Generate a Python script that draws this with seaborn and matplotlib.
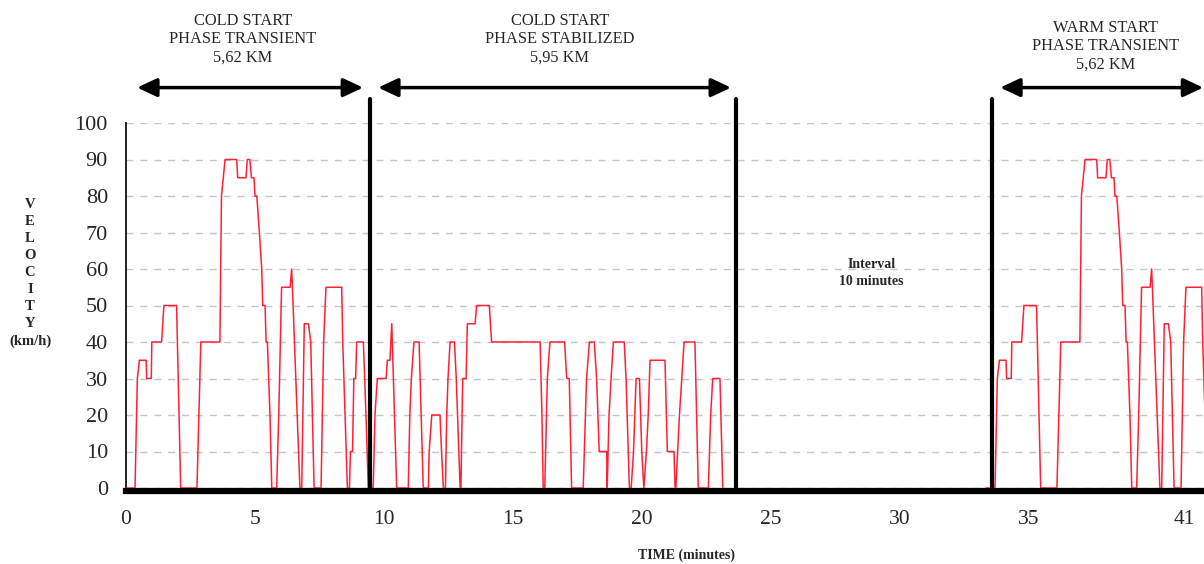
import pandas as pd
import matplotlib
matplotlib.use('Agg')
from matplotlib import pyplot as plt
import seaborn as sns

# transient phase profile (minutes from phase start, km/h)
transient_t = [0, 0.35, 0.44, 0.52, 0.78, 0.8, 0.98, 1.0, 1.38, 1.47, 1.96, 2.12, 2.75, 2.9,
               3.64, 3.7, 3.84, 4.29, 4.33, 4.65, 4.7, 4.8, 4.86, 4.96, 5.0, 5.07, 5.17, 5.26,
               5.3, 5.39, 5.43, 5.48, 5.58, 5.65, 5.84, 5.92, 6.03, 6.36, 6.42, 6.45, 6.74, 6.81,
               6.91, 7.07, 7.16, 7.29, 7.56, 7.66, 7.75, 8.36, 8.4, 8.58, 8.66, 8.7, 8.78, 8.83,
               8.9, 8.94, 9.2, 9.3, 9.39]
transient_v = [0, 0, 30, 35, 35, 30, 30, 40, 40, 50, 50, 0, 0, 40,
               40, 80, 90, 90, 85, 85, 90, 90, 85, 85, 80, 80, 70, 60,
               50, 50, 40, 40, 20, 0, 0, 20, 55, 55, 60, 55, 0, 0,
               45, 45, 40, 0, 0, 40, 55, 55, 40, 0, 0, 10, 10, 30,
               30, 40, 40, 20, 0]

# stabilized phase (absolute minutes, km/h)
stabilized_t = [9.52, 9.58, 9.65, 9.74, 10.08, 10.13, 10.23, 10.3, 10.49, 10.94, 11.0, 11.06,
                11.16, 11.36, 11.44, 11.52, 11.72, 11.75, 11.85, 12.17, 12.23, 12.3, 12.38, 12.43,
                12.48, 12.56, 12.73, 12.8, 12.85, 12.95, 12.98, 13.05, 13.18, 13.23, 13.53, 13.59,
                14.08, 14.17, 16.05, 16.12, 16.17, 16.23, 16.33, 16.43, 17.0, 17.08, 17.18, 17.27,
                17.72, 17.85, 17.96, 18.15, 18.24, 18.34, 18.63, 18.65, 18.72, 18.8, 18.89, 19.31,
                19.38, 19.51, 19.58, 19.67, 19.77, 19.9, 19.99, 20.07, 20.17, 20.24, 20.31, 20.89,
                20.98, 21.24, 21.28, 21.31, 21.45, 21.54, 21.63, 22.05, 22.18, 22.57, 22.66, 22.74,
                23.02, 23.13]
stabilized_v = [0, 0, 20, 30, 30, 35, 35, 45, 0, 0, 20, 30,
                40, 40, 20, 0, 0, 10, 20, 20, 10, 0, 0, 20,
                30, 40, 40, 30, 20, 0, 0, 30, 30, 45, 45, 50,
                50, 40, 40, 20, 0, 0, 30, 40, 40, 30, 30, 0,
                0, 30, 40, 40, 30, 10, 10, 0, 20, 30, 40, 40,
                30, 0, 0, 10, 30, 30, 10, 0, 10, 20, 35, 35,
                10, 10, 0, 0, 20, 30, 40, 40, 0, 0, 20, 30,
                30, 0]

cold_start = 0.0
warm_start = 33.33
phase_bounds = [9.46, 23.64, 33.57]
x_ticks = [0, 5, 10, 15, 20, 25, 30, 35, 41]
y_ticks = list(range(0, 101, 10))
phase_titles = ['COLD START\nPHASE TRANSIENT\n5,62 KM',
                'COLD START\nPHASE STABILIZED\n5,95 KM',
                'WARM START\nPHASE TRANSIENT\n5,62 KM']
x_max = 41.78

df = pd.concat([
    pd.DataFrame({'time': [t + cold_start for t in transient_t], 'speed': transient_v, 'phase': 'cold transient'}),
    pd.DataFrame({'time': stabilized_t, 'speed': stabilized_v, 'phase': 'cold stabilized'}),
    pd.DataFrame({'time': [t + warm_start for t in transient_t], 'speed': transient_v, 'phase': 'warm transient'}),
])

sns.set_style('white')
plt.rcParams['font.family'] = ['Liberation Serif', 'DejaVu Serif']

fig = plt.figure(figsize=(12.04, 5.64), dpi=100)
ax = fig.add_axes([126 / 1204, 76 / 564, 1 - 126 / 1204, 365 / 564])

sns.lineplot(data=df, x='time', y='speed', units='phase', estimator=None, sort=False,
             color='#ff2035', lw=1.1, ax=ax, zorder=3)

ax.set_xlim(0, x_max)
ax.set_ylim(0, 100)
ax.set_xticks(x_ticks)
ax.set_yticks(y_ticks)
ax.tick_params(axis='y', direction='out', length=4, width=1, color='black', pad=9, labelsize=16)
ax.tick_params(axis='x', length=0, pad=14, labelsize=15.5)
ax.yaxis.grid(True, linestyle=(0, (5, 5)), color='#c4c4c4', lw=1)
ax.xaxis.grid(False)
for s in ['top', 'right']:
    ax.spines[s].set_visible(False)
ax.spines['left'].set_color('#222222')
ax.spines['left'].set_linewidth(1.4)
ax.spines['bottom'].set_color('black')
ax.spines['bottom'].set_linewidth(4.5)
ax.spines['bottom'].set_position(('outward', 2))
ax.set_xlabel('')
ax.set_ylabel('')

# phase boundaries
for b in phase_bounds:
    ax.plot([b, b], [0, 106.5], color='black', lw=3, clip_on=False, zorder=4)

# phase arrows and titles
arrow_spans = [(0.43, 9.19), (9.77, 23.45), (33.88, 41.75)]
title_x = [4.53, 16.82, 37.95]
title_y = [123.0, 123.0, 121.0]
for (x1, x2), tx, ty, title in zip(arrow_spans, title_x, title_y, phase_titles):
    ax.annotate('', xy=(x2, 109.7), xytext=(x1, 109.7), annotation_clip=False,
                arrowprops=dict(arrowstyle='<|-|>,head_length=0.6,head_width=0.28',
                                color='black', lw=2.5, mutation_scale=20, shrinkA=0, shrinkB=0))
    ax.text(tx, ty, title, ha='center', va='center', fontsize=11.8, linespacing=1.18)

ax.text(28.9, 59.0, 'Interval\n10 minutes', ha='center', va='center', fontsize=10,
        fontweight='bold', linespacing=1.4)

fig.text(30 / 1204, 1 - 273 / 564, '\n'.join('VELOCITY') + '\n(km/h)', ha='center', va='center',
         fontsize=10.5, fontweight='bold', linespacing=1.4)
fig.text(687 / 1204, 1 - 555 / 564, 'TIME (minutes)', ha='center', va='center',
         fontsize=10, fontweight='bold')

plt.savefig('out.png', dpi=100)
